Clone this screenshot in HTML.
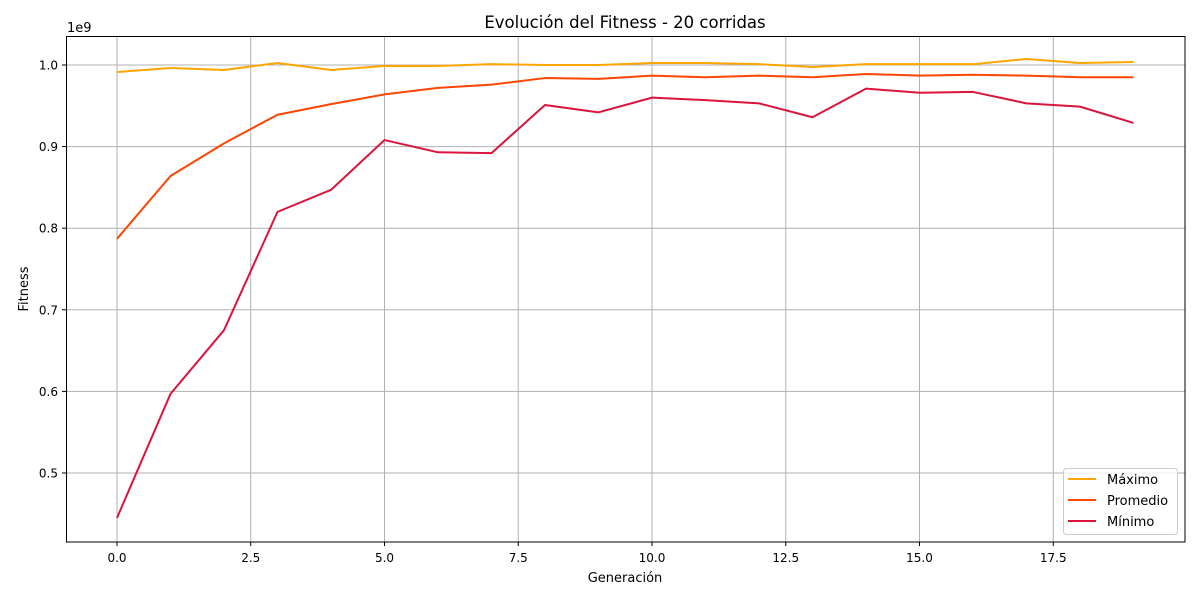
<!DOCTYPE html>
<html><head><meta charset="utf-8"><style>
body{margin:0;background:#fff;}
svg text{font-family:"DejaVu Sans","Liberation Sans",sans-serif;fill:#000;}
</style></head><body>
<svg id="chart" width="1200" height="600" xmlns="http://www.w3.org/2000/svg">
<rect width="1200" height="600" fill="#fff"/>
<g id="grid"></g>
<g id="series"></g>
<rect x="66.5" y="36.5" width="1118.5" height="505.5" fill="none" stroke="#000" stroke-width="1"/>
<g id="ticks"></g>
<text x="625" y="28" font-size="16.5" text-anchor="middle">Evolución del Fitness - 20 corridas</text>
<text x="625" y="582" font-size="13" text-anchor="middle">Generación</text>
<text transform="translate(28,289) rotate(-90)" font-size="13" text-anchor="middle">Fitness</text>
<text x="67" y="32" font-size="13">1e9</text>
<g>
<rect x="1063.5" y="468.5" width="114" height="66" rx="3" fill="#fff" fill-opacity="0.8" stroke="#ccc"/>
<line x1="1068" y1="479" x2="1096" y2="479" stroke="#FFA500" stroke-width="2"/>
<text x="1107" y="484" font-size="13">Máximo</text>
<line x1="1068" y1="500" x2="1096" y2="500" stroke="#FF4500" stroke-width="2"/>
<text x="1107" y="505" font-size="13">Promedio</text>
<line x1="1068" y1="521" x2="1096" y2="521" stroke="#DC143C" stroke-width="2"/>
<text x="1107" y="526" font-size="13">Mínimo</text>
</g>
</svg>
<script>
const generations=[0,1,2,3,4,5,6,7,8,9,10,11,12,13,14,15,16,17,18,19];
const maxValues=[0.9914,0.9963,0.9939,1.0025,0.9939,0.9988,0.9988,1.001,1.0,1.0,1.0025,1.0025,1.001,0.9975,1.001,1.001,1.001,1.0074,1.0025,1.0037];
const avgValues=[0.787,0.864,0.904,0.939,0.952,0.964,0.972,0.976,0.984,0.983,0.987,0.985,0.987,0.985,0.989,0.987,0.988,0.987,0.985,0.985];
const minValues=[0.445,0.597,0.675,0.820,0.847,0.908,0.893,0.892,0.951,0.942,0.960,0.957,0.953,0.936,0.971,0.966,0.967,0.953,0.949,0.929];
const xTicks=[0,2.5,5,7.5,10,12.5,15,17.5];
const xTickLabels=["0.0","2.5","5.0","7.5","10.0","12.5","15.0","17.5"];
const yTicks=[0.5,0.6,0.7,0.8,0.9,1.0];
const yTickLabels=["0.5","0.6","0.7","0.8","0.9","1.0"];
const NS="http://www.w3.org/2000/svg";
function xs(v){return 117+v*53.5;}
function ys(v){return 65-(v-1.0)*816;}
function mk(t,a,p){const e=document.createElementNS(NS,t);for(const k in a)e.setAttribute(k,a[k]);p.appendChild(e);return e;}
const grid=document.getElementById('grid'),ticks=document.getElementById('ticks'),ser=document.getElementById('series');
xTicks.forEach((v,i)=>{const x=xs(v);
const g=mk('line',{x1:x,x2:x,y1:36,y2:542,stroke:'#b0b0b0','stroke-width':1},grid);


const t=mk('line',{x1:x,x2:x,y1:542,y2:546,stroke:'#000'},ticks);


const l=mk('text',{x:x,y:562,'font-size':12,'text-anchor':'middle'},ticks);l.textContent=xTickLabels[i];


});
yTicks.forEach((v,i)=>{const y=ys(v);
const g=mk('line',{x1:66,x2:1185,y1:y,y2:y,stroke:'#b0b0b0','stroke-width':1},grid);


const t=mk('line',{x1:62,x2:66,y1:y,y2:y,stroke:'#000'},ticks);


const l=mk('text',{x:58,y:y+4.5,'font-size':12,'text-anchor':'end'},ticks);l.textContent=yTickLabels[i];


});
[[maxValues,'#FFA500','max-line'],[avgValues,'#FF4500','avg-line'],[minValues,'#DC143C','min-line']].forEach(s=>{
const pts=generations.map((g,i)=>xs(g)+','+ys(s[0][i])).join(' ');
const p=mk('polyline',{points:pts,fill:'none',stroke:s[1],'stroke-width':2,'stroke-linejoin':'round'},ser);


});
</script>
</body></html>
